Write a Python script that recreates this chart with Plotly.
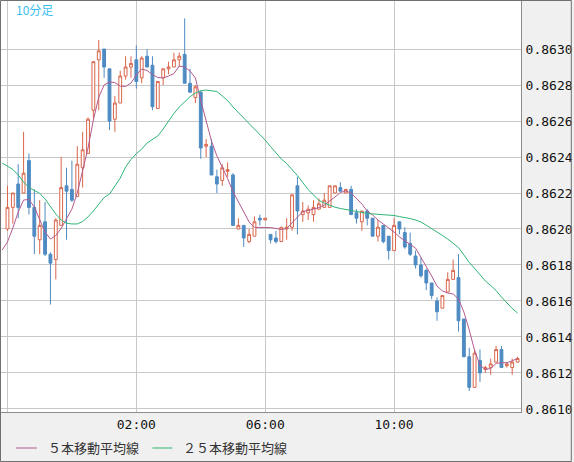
import plotly.graph_objects as go

# ---------------- data ----------------
bar_idx = list(range(96))  # 10-minute bars, index 0 = 22:00

opens = [0.86200, 0.86212, 0.86225, 0.86220, 0.86238, 0.86212, 0.86194, 0.86204, 0.86186, 0.86183,
         0.86202, 0.86224, 0.86222, 0.86218, 0.86234, 0.86242, 0.86266, 0.86294, 0.86300, 0.86289,
         0.86261, 0.86270, 0.86285, 0.86290, 0.86294, 0.86284, 0.86296, 0.86291, 0.86267, 0.86284,
         0.86289, 0.86290, 0.86294, 0.86297, 0.86281, 0.86273, 0.86276, 0.86246, 0.86246, 0.86229,
         0.86227, 0.86232, 0.86230, 0.86200, 0.86202, 0.86193, 0.86196, 0.86206, 0.86205, 0.86197,
         0.86195, 0.86193, 0.86200, 0.86201, 0.86224, 0.86208, 0.86209, 0.86208, 0.86211, 0.86212,
         0.86212, 0.86220, 0.86223, 0.86220, 0.86222, 0.86209, 0.86204, 0.86210, 0.86206, 0.86196,
         0.86202, 0.86196, 0.86188, 0.86204, 0.86198, 0.86192, 0.86185, 0.86180, 0.86177, 0.86170,
         0.86160, 0.86156, 0.86165, 0.86172, 0.86173, 0.86150, 0.86129, 0.86112, 0.86127, 0.86122,
         0.86123, 0.86126, 0.86133, 0.86124, 0.86123, 0.86126]
highs = [0.86224, 0.86220, 0.86236, 0.86254, 0.86242, 0.86222, 0.86216, 0.86215, 0.86187, 0.86206,
         0.86240, 0.86234, 0.86238, 0.86246, 0.86254, 0.86262, 0.86293, 0.86305, 0.86300, 0.86289,
         0.86274, 0.86288, 0.86296, 0.86296, 0.86302, 0.86296, 0.86300, 0.86296, 0.86282, 0.86289,
         0.86293, 0.86298, 0.86298, 0.86317, 0.86289, 0.86280, 0.86277, 0.86250, 0.86250, 0.86233,
         0.86236, 0.86237, 0.86231, 0.86206, 0.86202, 0.86200, 0.86207, 0.86208, 0.86206, 0.86197,
         0.86199, 0.86201, 0.86206, 0.86219, 0.86229, 0.86215, 0.86213, 0.86216, 0.86217, 0.86220,
         0.86224, 0.86224, 0.86226, 0.86222, 0.86224, 0.86211, 0.86210, 0.86211, 0.86206, 0.86205,
         0.86202, 0.86196, 0.86206, 0.86204, 0.86201, 0.86198, 0.86188, 0.86184, 0.86178, 0.86170,
         0.86162, 0.86163, 0.86176, 0.86183, 0.86186, 0.86150, 0.86134, 0.86133, 0.86133, 0.86124,
         0.86128, 0.86135, 0.86135, 0.86126, 0.86128, 0.86129]
lows = [0.86199, 0.86203, 0.86206, 0.86220, 0.86208, 0.86186, 0.86186, 0.86185, 0.86158, 0.86172,
        0.86202, 0.86194, 0.86215, 0.86218, 0.86223, 0.86242, 0.86261, 0.86266, 0.86284, 0.86255,
        0.86254, 0.86270, 0.86283, 0.86284, 0.86278, 0.86281, 0.86290, 0.86266, 0.86267, 0.86280,
        0.86286, 0.86290, 0.86290, 0.86281, 0.86276, 0.86270, 0.86239, 0.86240, 0.86230, 0.86220,
        0.86224, 0.86229, 0.86202, 0.86200, 0.86190, 0.86192, 0.86196, 0.86202, 0.86205, 0.86192,
        0.86192, 0.86193, 0.86194, 0.86199, 0.86197, 0.86204, 0.86205, 0.86204, 0.86211, 0.86212,
        0.86212, 0.86220, 0.86221, 0.86220, 0.86208, 0.86203, 0.86199, 0.86202, 0.86196, 0.86193,
        0.86192, 0.86183, 0.86188, 0.86197, 0.86189, 0.86185, 0.86178, 0.86173, 0.86166, 0.86161,
        0.86149, 0.86156, 0.86165, 0.86172, 0.86143, 0.86129, 0.86110, 0.86112, 0.86115, 0.86120,
        0.86119, 0.86126, 0.86123, 0.86123, 0.86119, 0.86126]
closes = [0.86212, 0.86220, 0.86212, 0.86231, 0.86212, 0.86196, 0.86202, 0.86186, 0.86181, 0.86205,
          0.86223, 0.86221, 0.86216, 0.86236, 0.86244, 0.86261, 0.86293, 0.86299, 0.86290, 0.86260,
          0.86270, 0.86285, 0.86290, 0.86292, 0.86282, 0.86295, 0.86290, 0.86268, 0.86282, 0.86289,
          0.86290, 0.86294, 0.86296, 0.86281, 0.86276, 0.86279, 0.86245, 0.86247, 0.86230, 0.86225,
          0.86234, 0.86233, 0.86202, 0.86202, 0.86195, 0.86197, 0.86204, 0.86205, 0.86206, 0.86194,
          0.86193, 0.86201, 0.86201, 0.86219, 0.86210, 0.86210, 0.86211, 0.86212, 0.86214, 0.86216,
          0.86224, 0.86224, 0.86221, 0.86222, 0.86208, 0.86206, 0.86210, 0.86206, 0.86196, 0.86201,
          0.86193, 0.86188, 0.86202, 0.86200, 0.86190, 0.86186, 0.86180, 0.86174, 0.86170, 0.86163,
          0.86154, 0.86163, 0.86172, 0.86177, 0.86149, 0.86129, 0.86112, 0.86131, 0.86120, 0.86123,
          0.86125, 0.86133, 0.86123, 0.86125, 0.86126, 0.86128]

ma_idx = list(range(-1, 96))
ma5 = [0.861883, 0.861928, 0.862006, 0.862094, 0.862161, 0.862164, 0.862122, 0.862056, 0.861983, 0.861944,
       0.861964, 0.862003, 0.862053, 0.862111, 0.862200, 0.862322, 0.862450, 0.862606, 0.862733, 0.862800,
       0.862817, 0.862814, 0.862794, 0.862792, 0.862811, 0.862856, 0.862889, 0.862881, 0.862858, 0.862842,
       0.862839, 0.862850, 0.862864, 0.862906, 0.862900, 0.862878, 0.862839, 0.862714, 0.862594, 0.862489,
       0.862406, 0.862344, 0.862280, 0.862208, 0.862150, 0.862089, 0.862039, 0.862009, 0.862009, 0.862009,
       0.862008, 0.862003, 0.861997, 0.862003, 0.862033, 0.862067, 0.862097, 0.862103, 0.862109, 0.862119,
       0.862133, 0.862153, 0.862178, 0.862203, 0.862211, 0.862200, 0.862172, 0.862139, 0.862100, 0.862078,
       0.862050, 0.862028, 0.862006, 0.861983, 0.861956, 0.861933, 0.861914, 0.861894, 0.861844, 0.861789,
       0.861739, 0.861683, 0.861656, 0.861644, 0.861639, 0.861611, 0.861539, 0.861439, 0.861325, 0.861244,
       0.861219, 0.861225, 0.861253, 0.861257, 0.861257, 0.861267, 0.861282]
ma25 = [0.862367, 0.862350, 0.862331, 0.862300, 0.862261, 0.862231, 0.862214, 0.862198, 0.862167, 0.862125,
        0.862083, 0.862050, 0.862032, 0.862028, 0.862028, 0.862042, 0.862067, 0.862100, 0.862139, 0.862175,
        0.862194, 0.862236, 0.862283, 0.862344, 0.862386, 0.862419, 0.862444, 0.862478, 0.862497, 0.862517,
        0.862556, 0.862600, 0.862642, 0.862678, 0.862708, 0.862735, 0.862756, 0.862768, 0.862772, 0.862769,
        0.862764, 0.862739, 0.862714, 0.862678, 0.862647, 0.862619, 0.862589, 0.862556, 0.862525, 0.862494,
        0.862458, 0.862422, 0.862389, 0.862364, 0.862333, 0.862297, 0.862258, 0.862219, 0.862189, 0.862159,
        0.862144, 0.862131, 0.862121, 0.862114, 0.862109, 0.862106, 0.862100, 0.862092, 0.862086, 0.862084,
        0.862083, 0.862081, 0.862078, 0.862075, 0.862069, 0.862065, 0.862058, 0.862050, 0.862039, 0.862021,
        0.862003, 0.861983, 0.861964, 0.861944, 0.861922, 0.861897, 0.861856, 0.861814, 0.861781, 0.861744,
        0.861711, 0.861686, 0.861658, 0.861622, 0.861589, 0.861558, 0.861533]

y_tick_vals = [0.8610, 0.8612, 0.8614, 0.8616, 0.8618, 0.8620, 0.8622, 0.8624, 0.8626, 0.8628, 0.8630]
y_tick_text = ["0.8610", "0.8612", "0.8614", "0.8616", "0.8618", "0.8620",
               "0.8622", "0.8624", "0.8626", "0.8628", "0.8630"]
x_tick_vals = [0, 24, 48, 72]
x_tick_text = ["", "02:00", "06:00", "10:00"]

series_names = ["５本移動平均線", "２５本移動平均線"]
period_label = "10分足"

# ---------------- style ----------------
RED = "#d9654a"
BLUE = "#4e8bc2"
MA5_COLOR = "#b35a8e"
MA25_COLOR = "#2fb574"
GRID = "#c8c8c8"
MONO = "DejaVu Sans Mono"
JP = "Noto Sans CJK JP"

W, H = 574, 462
L, R, T, B = 1, 51, 1, 50
PW, PH = W - L - R, H - T - B


def px_x(px):
    return (px - L) / PW


def px_y(py):
    return (H - B - py) / PH


fig = go.Figure()
fig.add_trace(go.Candlestick(
    x=bar_idx, open=opens, high=highs, low=lows, close=closes,
    increasing=dict(line=dict(color=RED, width=1), fillcolor="white"),
    decreasing=dict(line=dict(color=BLUE, width=1), fillcolor=BLUE),
    whiskerwidth=0, showlegend=False, name=period_label, hoverinfo="skip",
))
fig.add_trace(go.Scatter(x=ma_idx, y=ma5, mode="lines", name=series_names[0],
                         line=dict(color=MA5_COLOR, width=1), hoverinfo="skip"))
fig.add_trace(go.Scatter(x=ma_idx, y=ma25, mode="lines", name=series_names[1],
                         line=dict(color=MA25_COLOR, width=1), hoverinfo="skip"))

fig.update_layout(
    width=W, height=H,
    margin=dict(l=L, r=R, t=T, b=B, pad=0),
    paper_bgcolor="#f0f0f0", plot_bgcolor="white",
    showlegend=False, boxgap=0.25,
    xaxis=dict(range=[-1.206, 95.64], tickvals=x_tick_vals, ticktext=x_tick_text,
               showgrid=True, gridcolor=GRID, gridwidth=1, zeroline=False,
               showline=True, linecolor="#8c8c8c", linewidth=1,
               ticks="", tickfont=dict(family=MONO, size=13, color="#111"),
               rangeslider=dict(visible=False), fixedrange=True),
    yaxis=dict(range=[0.860983, 0.863267], side="right", tickvals=y_tick_vals, ticktext=y_tick_text,
               showgrid=True, gridcolor=GRID, gridwidth=1, zeroline=False,
               showline=True, linecolor="#8c8c8c", linewidth=1,
               ticks="", ticklabelstandoff=1,
               tickfont=dict(family=MONO, size=13, color="#111"), fixedrange=True),
)

# outer frame
fig.add_shape(type="rect", xref="paper", yref="paper",
              x0=px_x(0.5), x1=px_x(573.5), y0=px_y(461.5), y1=px_y(0.5),
              line=dict(color="#707070", width=1), fillcolor="rgba(0,0,0,0)", layer="above")

# period label
fig.add_annotation(xref="paper", yref="paper", x=px_x(14), y=px_y(10),
                   text=period_label, showarrow=False, xanchor="left", yanchor="middle",
                   font=dict(family=JP, size=12, color="#3cbfee"))

# legend (manual)
legend_items = [(16, 37, 46, series_names[0], MA5_COLOR),
                (153, 173, 182, series_names[1], MA25_COLOR)]
for x0, x1, tx, txt, col in legend_items:
    fig.add_shape(type="line", xref="paper", yref="paper",
                  x0=px_x(x0), x1=px_x(x1), y0=px_y(448), y1=px_y(448),
                  line=dict(color=col, width=1))
    fig.add_annotation(xref="paper", yref="paper", x=px_x(tx), y=px_y(448),
                       text=txt, showarrow=False, xanchor="left", yanchor="middle",
                       font=dict(family=JP, size=13, color="#333"))

fig.write_html("out.html", config=dict(displayModeBar=False))
